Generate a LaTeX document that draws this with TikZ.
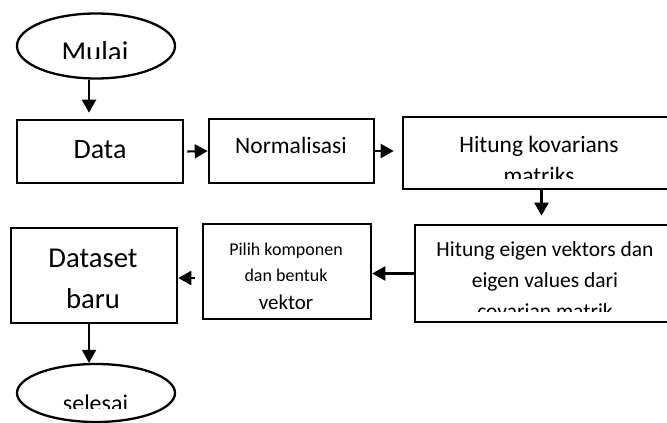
\documentclass[tikz,border=0pt]{standalone}
\usepackage{fontspec}
\setmainfont{Carlito}
\usetikzlibrary{shapes.geometric,arrows.meta,calc}
\newcommand{\fsz}[1]{\fontsize{#1}{#1}\selectfont}

\begin{document}
\begin{tikzpicture}[x=1pt,y=-1pt,
	box/.style={draw,line width=2.6pt,inner sep=0pt},
	oval/.style={ellipse,draw,line width=2.3pt,inner sep=0pt},
	arr/.style={line width=2.1pt,-{Triangle[length=13pt,width=14pt]}},
	txt/.style={inner sep=0pt,anchor=base}]
\clip (0,0) rectangle (667,423);
% boxes
\node[oval,minimum width=158,minimum height=65] (mulai) at (96,46) {};
\node[box,minimum width=166,minimum height=63] (data) at (100,151.5) {};
\node[box,minimum width=165,minimum height=64] (norm) at (291.5,151) {};
\node[box,minimum width=277,minimum height=72] (kov) at (541.5,153) {};
\node[box,minimum width=275,minimum height=97] (eigen) at (552.5,273.5) {};
\node[box,minimum width=168,minimum height=95] (pilih) at (287,271.5) {};
\node[box,minimum width=166,minimum height=95] (dataset) at (94,275.5) {};
\node[oval,minimum width=158,minimum height=58] (selesai) at (96,393) {};
% texts
\begin{scope}
	\clip (mulai.north west) rectangle (667,58);
	\node[txt] (tmulai) at (95,61.5) {\fsz{28.8}Mulai};
\end{scope}
\node[txt] (tdata) at (100,158) {\fsz{28}Data};
\node[txt] (tnorm) at (291,153) {\fsz{23.5}Normalisasi};
\node[txt] (tkov) at (539,152) {\fsz{23.5}Hitung kovarians};
\begin{scope}
	\clip (kov.north west) rectangle (667,178);
	\node[txt] (tkov2) at (539,183) {\fsz{23.5}matriks};
\end{scope}
\node[txt] (teig1) at (545,256) {\fsz{21.5}Hitung eigen vektors dan};
\node[txt] (teig2) at (545,287) {\fsz{21.5}eigen values dari};
\begin{scope}
	\clip (eigen.north west) rectangle (667,311);
	\node[txt] (teig3) at (545,318) {\fsz{21.5}covarian matrik};
\end{scope}
\node[txt] (tpil1) at (286,255) {\fsz{18}Pilih komponen};
\node[txt] (tpil2) at (286,281) {\fsz{18}dan bentuk};
\node[txt] (tpil3) at (286,309) {\fsz{21}vektor};
\node[txt] (tds1) at (93,267) {\fsz{28.7}Dataset};
\node[txt] (tds2) at (93,308) {\fsz{28.7}baru};
\begin{scope}
	\clip (0,360) rectangle (667,408);
	\node[txt] (tsel) at (95.5,411) {\fsz{24}selesai};
\end{scope}
% arrows
\coordinate (pl) at ($(pilih.west)+(-7,6.5)$);
\draw[arr] ($(mulai.south)+(-7,0)$) -- ($(data.north)+(-11,-6)$);
\draw[arr] ($(data.east)+(3,0)$) -- (norm.west);
\draw[arr] (norm.east) -- ($(norm.east -| kov.west)+(-8,0)$);
\draw[arr] (kov.south) -- ($(kov.south |- eigen.north)+(0,-8)$);
\draw[arr] (eigen.west) -- (eigen.west -| pilih.east);
\draw[arr] (pl) -- (pl -| dataset.east);
\draw[arr] ($(dataset.south)+(-5,0)$) -- ($(dataset.south |- selesai.north)+(-5,0)$);
\end{tikzpicture}
\end{document}
